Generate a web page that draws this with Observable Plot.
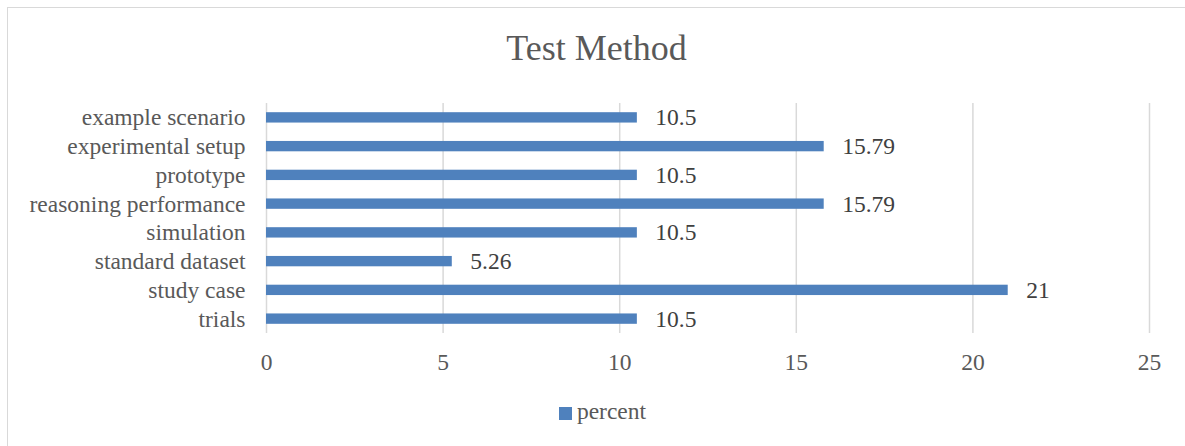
<!DOCTYPE html>
<html>
<head>
<meta charset="utf-8">
<script src="https://cdn.jsdelivr.net/npm/d3@7"></script>
<script src="https://cdn.jsdelivr.net/npm/@observablehq/plot@0.6"></script>
<style>
  html, body { margin: 0; padding: 0; background: #fff; }
  #wrap { position: relative; width: 1185px; height: 446px; font-family: "Liberation Serif", "Times New Roman", serif; overflow: hidden; }
  #frame { position: absolute; left: 7px; top: 7px; width: 1200px; height: 460px; border: 1px solid #d9d9d9; box-sizing: border-box; }
  #title { position: absolute; left: 4px; top: 26px; width: 1185px; text-align: center; font-size: 36px; color: #595959; line-height: 44px; }
  #chart { position: absolute; left: 0; top: 0; }
  #legend { position: absolute; left: 10px; top: 397px; width: 1185px; text-align: center; font-size: 23.5px; color: #595959; line-height: 28px; }
  #legend .sw { display: inline-block; width: 13px; height: 13px; background: #4f81bd; margin-right: 5px; vertical-align: -1px; }
</style>
</head>
<body>
<div id="wrap">
  <div id="frame"></div>
  <div id="title">Test Method</div>
  <div id="chart"></div>
  <div id="legend"><span class="sw"></span>percent</div>
</div>
<script>
const categories = ["example scenario", "experimental setup", "prototype", "reasoning performance", "simulation", "standard dataset", "study case", "trials"];
const percent = [10.5, 15.79, 10.5, 15.79, 10.5, 5.26, 21, 10.5];
const xTicks = [0, 5, 10, 15, 20, 25];

const data = categories.map((c, i) => ({category: c, value: percent[i]}));

const plot = Plot.plot({
  width: 1185,
  height: 390,
  marginLeft: 266,
  marginRight: 36,
  marginTop: 103,
  marginBottom: 57,
  style: {fontFamily: '"Liberation Serif", "Times New Roman", serif', fontSize: "23.5px", color: "#595959", background: "transparent"},
  x: {domain: [0, 25], ticks: xTicks, tickSize: 0, label: null},
  y: {domain: categories, paddingInner: 0.64, paddingOuter: 0.32, round: false, tickSize: 0, label: null},
  marks: [
    Plot.gridX(xTicks, {stroke: "#d9d9d9", strokeOpacity: 1, strokeWidth: 1.5}),
    Plot.barX(data, {x: "value", y: "category", fill: "#4f81bd"}),
    Plot.text(data, {x: "value", y: "category", text: d => String(d.value), dx: 18, textAnchor: "start", fill: "#404040", fontSize: 23.5}),
    Plot.axisX({ticks: xTicks, tickSize: 0, tickPadding: 20, fontSize: 23.5, color: "#595959"}),
    Plot.axisY({tickSize: 0, tickPadding: 21, fontSize: 23.5, color: "#595959"})
  ]
});
document.getElementById("chart").appendChild(plot);
</script>
</body>
</html>
